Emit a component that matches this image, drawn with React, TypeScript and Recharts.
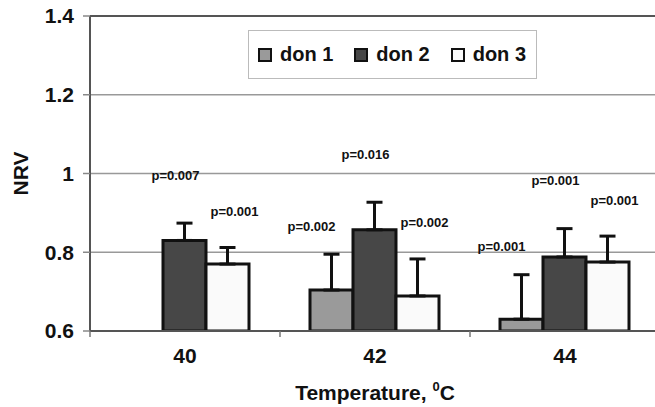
import {
  BarChart,
  Bar,
  XAxis,
  YAxis,
  CartesianGrid,
  ErrorBar,
  LabelList,
  Legend,
  ReferenceLine,
  Label,
} from "recharts";

const temps = ["40", "42", "44"];
const don1 = [null, 0.704, 0.63];
const don1Err = [null, 0.091, 0.113];
const don2 = [0.83, 0.857, 0.788];
const don2Err = [0.044, 0.07, 0.072];
const don3 = [0.77, 0.689, 0.775];
const don3Err = [0.042, 0.094, 0.066];
const don1P = [null, "p=0.002", "p=0.001"];
const don2P = ["p=0.007", "p=0.016", "p=0.001"];
const don3P = ["p=0.001", "p=0.002", "p=0.001"];
const yTicks = [0.6, 0.8, 1, 1.2, 1.4];

const data = temps.map((t, i) => ({
  temp: t,
  d1: don1[i],
  d1e: don1Err[i] == null ? null : [0, don1Err[i]],
  d1p: don1P[i],
  d2: don2[i],
  d2e: [0, don2Err[i]],
  d2p: don2P[i],
  d3: don3[i],
  d3e: [0, don3Err[i]],
  d3p: don3P[i],
}));

// layout
const W = 670;
const H = 407;
const TOP = 16;
const X_AXIS_H = 76;
const LEFT = 90;
const RIGHT = 10;
const PLOT_BOTTOM = H - X_AXIS_H;
const PX_PER_UNIT = (PLOT_BOTTOM - TOP) / (yTicks[yTicks.length - 1] - yTicks[0]);
const HALF_BAND = (W - LEFT - RIGHT) / temps.length / 2;
const FONT = "'Liberation Sans', Arial, Helvetica, sans-serif";

// label value = [text, error] so the text can sit above the error cap
const pValue = (pKey: string, eKey: string) => (row: any) =>
  row[pKey] == null ? null : [row[pKey], row[eKey] ? row[eKey][1] : 0];

const pLabel = (dx: number, lift: number) => (props: any) => {
  const { x, y, width, value } = props;
  if (!Array.isArray(value)) return null;
  const errTop = y - value[1] * PX_PER_UNIT;
  return (
    <text
      x={x + width / 2 + dx}
      y={errTop - lift + 4.5}
      textAnchor="middle"
      fontSize={13}
      fontWeight="bold"
      fill="#111"
    >
      {value[0]}
    </text>
  );
};

const tempTick = (props: any) => {
  const { x, payload, index } = props;
  return (
    <g>
      <line x1={x - HALF_BAND} x2={x - HALF_BAND} y1={PLOT_BOTTOM} y2={PLOT_BOTTOM + 6} stroke="#777" strokeWidth={1.5} />
      {index === temps.length - 1 && (
        <line x1={x + HALF_BAND} x2={x + HALF_BAND} y1={PLOT_BOTTOM} y2={PLOT_BOTTOM + 6} stroke="#777" strokeWidth={1.5} />
      )}
      <text x={x} y={PLOT_BOTTOM + 32} textAnchor="middle" fontSize={21} fontWeight="bold" fill="#111">
        {payload.value}
      </text>
    </g>
  );
};

const renderLegend = (props: any) => {
  const { payload } = props;
  return (
    <div
      style={{
        display: "flex",
        alignItems: "center",
        boxSizing: "border-box",
        width: 289,
        height: 49,
        border: "1px solid #bbb",
        background: "#fff",
        paddingLeft: 9,
        fontFamily: FONT,
        fontSize: 20,
        fontWeight: "bold",
        color: "#111",
        whiteSpace: "nowrap",
      }}
    >
      {payload.map((p: any) => (
        <div key={p.value} style={{ display: "flex", alignItems: "center", marginRight: 21, flexShrink: 0 }}>
          <span
            style={{
              display: "inline-block",
              boxSizing: "border-box",
              width: 14,
              height: 14,
              border: "2px solid #111",
              background: p.color,
              marginRight: 8,
            }}
          />
          <span>{p.value}</span>
        </div>
      ))}
    </div>
  );
};

export default function App() {
  return (
    <div
      style={{
        position: "absolute",
        left: 0,
        top: 0,
        width: 655,
        height: 407,
        overflow: "hidden",
        background: "#fff",
        fontFamily: FONT,
      }}
    >
      <BarChart
        width={W}
        height={H}
        data={data}
        margin={{ top: TOP, right: RIGHT, bottom: 0, left: 0 }}
        barCategoryGap={30}
        barGap={0}
      >
        <CartesianGrid horizontal vertical={false} stroke="#999" strokeWidth={1.5} />
        <ReferenceLine y={1.4} stroke="#555" strokeWidth={2} />
        <XAxis
          dataKey="temp"
          height={X_AXIS_H}
          interval={0}
          axisLine={{ stroke: "#555", strokeWidth: 2 }}
          tickLine={false}
          tick={tempTick}
        >
          <Label
            content={() => (
              <text x={LEFT + (W - LEFT - RIGHT) / 2} y={PLOT_BOTTOM + 69} textAnchor="middle" fontSize={21} fontWeight="bold" fill="#111">
                Temperature,{" "}
                <tspan fontSize={13} dy={-9}>0</tspan>
                <tspan dy={9}>C</tspan>
              </text>
            )}
          />
        </XAxis>
        <YAxis
          domain={[0.6, 1.4]}
          ticks={yTicks}
          width={LEFT}
          allowDataOverflow
          tickFormatter={(v: number) => String(v)}
          tick={{ fontSize: 21, fontWeight: "bold", fill: "#111" }}
          axisLine={{ stroke: "#555", strokeWidth: 2 }}
          tickLine={{ stroke: "#888", strokeWidth: 1.5 }}
          tickSize={7}
          tickMargin={9}
        >
          <Label
            content={() => (
              <text
                x={20}
                y={(TOP + PLOT_BOTTOM) / 2}
                transform={`rotate(-90 20 ${(TOP + PLOT_BOTTOM) / 2})`}
                textAnchor="middle"
                dominantBaseline="central"
                fontSize={21}
                fontWeight="bold"
                fill="#111"
              >
                NRV
              </text>
            )}
          />
        </YAxis>
        <Legend
          layout="vertical"
          align="center"
          verticalAlign="middle"
          wrapperStyle={{ top: 30, left: 248, width: 289 }}
          content={renderLegend}
        />
        <Bar dataKey="d1" name="don 1" fill="#9a9a9a" stroke="#111" strokeWidth={3} isAnimationActive={false}>
          <ErrorBar dataKey="d1e" width={8} stroke="#111" strokeWidth={3} direction="y" />
          <LabelList dataKey={pValue("d1p", "d1e")} content={pLabel(-20, 28)} />
        </Bar>
        <Bar dataKey="d2" name="don 2" fill="#474747" stroke="#111" strokeWidth={3} isAnimationActive={false}>
          <ErrorBar dataKey="d2e" width={8} stroke="#111" strokeWidth={3} direction="y" />
          <LabelList dataKey={pValue("d2p", "d2e")} content={pLabel(-9, 48)} />
        </Bar>
        <Bar dataKey="d3" name="don 3" fill="#fafafa" stroke="#111" strokeWidth={3} isAnimationActive={false}>
          <ErrorBar dataKey="d3e" width={8} stroke="#111" strokeWidth={3} direction="y" />
          <LabelList dataKey={pValue("d3p", "d3e")} content={pLabel(7, 36)} />
        </Bar>
      </BarChart>
    </div>
  );
}
